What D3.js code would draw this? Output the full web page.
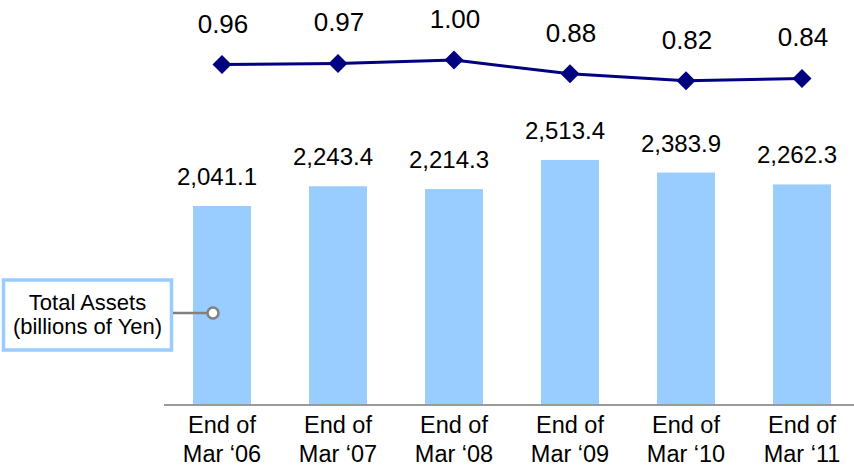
<!DOCTYPE html>
<html>
<head>
<meta charset="utf-8">
<script src="https://cdn.jsdelivr.net/npm/d3@7"></script>
<style>
  html, body { margin: 0; padding: 0; background: #fff; }
  svg { display: block; font-family: Arial, "Liberation Sans", sans-serif; }
</style>
</head>
<body>
<svg id="chart" width="854" height="468"></svg>
<script>
const categories = ["Mar ‘06", "Mar ‘07", "Mar ‘08", "Mar ‘09", "Mar ‘10", "Mar ‘11"];
const totalAssets = [2041.1, 2243.4, 2214.3, 2513.4, 2383.9, 2262.3];
const ratioValues = [0.96, 0.97, 1.00, 0.88, 0.82, 0.84];
const legendLines = ["Total Assets", "(billions of Yen)"];

const svg = d3.select("#chart");

const x = d3.scaleBand().domain(categories).range([164, 860]).paddingInner(0.5).paddingOuter(0.25);
const y = d3.scaleLinear().domain([0, 4000]).range([405, 405 - 0.0975 * 4000]);
const yLine = d3.scaleLinear().domain([0.8, 1.0]).range([83, 60]);

// bars
svg.append("g").selectAll("rect").data(totalAssets).join("rect")
  .attr("x", (d, i) => x(categories[i]))
  .attr("y", d => y(d))
  .attr("width", x.bandwidth())
  .attr("height", d => y(0) - y(d))
  .attr("fill", "#99CCFF");

// bar labels
svg.append("g").selectAll("text").data(totalAssets).join("text")
  .attr("x", (d, i) => x(categories[i]) + x.bandwidth() / 2 - 5)
  .attr("y", d => y(d) - 21)
  .attr("text-anchor", "middle")
  .attr("font-size", 24)
  .attr("fill", "#000")
  .text(d => d3.format(",.1f")(d));

// x axis
const xAxis = d3.axisBottom(x).tickSize(0).tickFormat(() => "");
const ax = svg.append("g").attr("transform", `translate(0,${y(0)})`).call(xAxis);
ax.select(".domain").attr("d", "M164,0H854").attr("stroke", "#9a9a9a").attr("stroke-width", 2);
ax.selectAll(".tick text").remove();
ax.selectAll(".tick").each(function(d) {
  const t = d3.select(this).append("text")
    .attr("text-anchor", "middle")
    .attr("font-size", 23.5)
    .attr("fill", "#000");
  t.append("tspan").attr("x", 0).attr("y", 28).text("End of");
  t.append("tspan").attr("x", 0).attr("y", 57).text(d);
});

// line
const cx = (i) => x(categories[i]) + x.bandwidth() / 2;
const line = d3.line().x((d, i) => cx(i)).y(d => yLine(d));
svg.append("path").datum(ratioValues)
  .attr("d", line)
  .attr("fill", "none")
  .attr("stroke", "#000080")
  .attr("stroke-width", 3);

svg.append("g").selectAll("path").data(ratioValues).join("path")
  .attr("d", d3.symbol().type(d3.symbolDiamond2).size(230))
  .attr("transform", (d, i) => `translate(${cx(i)},${yLine(d)})`)
  .attr("fill", "#000080");

svg.append("g").selectAll("text").data(ratioValues).join("text")
  .attr("x", (d, i) => cx(i) + 1)
  .attr("y", d => yLine(d) - 32)
  .attr("text-anchor", "middle")
  .attr("font-size", 26)
  .attr("fill", "#000")
  .text(d => d3.format(".2f")(d));

// legend callout
const lg = svg.append("g");
lg.append("rect")
  .attr("x", 3.5).attr("y", 280).attr("width", 168).attr("height", 70)
  .attr("fill", "#fff").attr("stroke", "#99CCFF").attr("stroke-width", 3.5);
lg.append("line")
  .attr("x1", 173).attr("x2", 207).attr("y1", 313).attr("y2", 313)
  .attr("stroke", "#808080").attr("stroke-width", 2.5);
lg.append("circle")
  .attr("cx", 213).attr("cy", 313).attr("r", 5.5)
  .attr("fill", "#fff").attr("stroke", "#808080").attr("stroke-width", 2.5);
lg.selectAll("text").data(legendLines).join("text")
  .attr("x", 87.5)
  .attr("y", (d, i) => 310 + i * 24)
  .attr("text-anchor", "middle")
  .attr("font-size", 22)
  .attr("fill", "#000")
  .text(d => d);
</script>
</body>
</html>
